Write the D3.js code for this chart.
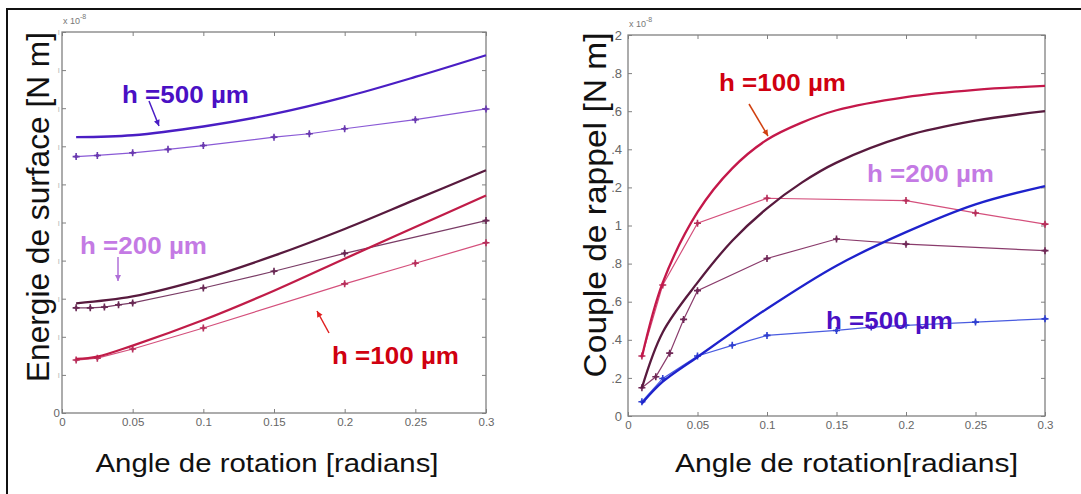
<!DOCTYPE html>
<html><head><meta charset="utf-8">
<script src="https://cdn.jsdelivr.net/npm/d3@7"></script>
<style>
html,body{margin:0;padding:0;background:#fff;}
svg{display:block;font-family:"Liberation Sans",Arial,sans-serif;}
</style></head>
<body>
<svg id="c" width="1081" height="494"></svg>
<script>
// ---------- DATA ----------
const xTicks = [0, 0.05, 0.1, 0.15, 0.2, 0.25, 0.3];
const xTickLabels = ["0", "0.05", "0.1", "0.15", "0.2", "0.25", "0.3"];

// Left panel: Energie de surface (tick labels cut off in source)
const leftYTicks = [0,1,2,3,4,5,6,7,8,9,10];
const leftYTickLabels = ["0","ı","ı","ı","ı","ı","ı","ı","ı","ı","ı"];
const leftX_h500_solid = [0.01, 0.05, 0.1, 0.15, 0.2, 0.25, 0.3];
const leftY_h500_solid = [7.24, 7.29, 7.52, 7.85, 8.29, 8.82, 9.39];
const leftX_h500_mark  = [0.01, 0.025, 0.05, 0.075, 0.1, 0.15, 0.175, 0.2, 0.25, 0.3];
const leftY_h500_mark  = [6.73, 6.76, 6.83, 6.92, 7.02, 7.24, 7.33, 7.46, 7.70, 7.98];
const leftX_h200_solid = [0.01, 0.05, 0.1, 0.15, 0.2, 0.25, 0.3];
const leftY_h200_solid = [2.88, 3.06, 3.52, 4.13, 4.83, 5.60, 6.37];
const leftX_h200_mark  = [0.01, 0.02, 0.03, 0.04, 0.05, 0.1, 0.15, 0.2, 0.3];
const leftY_h200_mark  = [2.76, 2.76, 2.78, 2.84, 2.89, 3.28, 3.72, 4.19, 5.05];
const leftX_h100_solid = [0.01, 0.025, 0.05, 0.1, 0.15, 0.2, 0.25, 0.3];
const leftY_h100_solid = [1.42, 1.48, 1.77, 2.44, 3.21, 4.05, 4.88, 5.71];
const leftX_h100_mark  = [0.01, 0.025, 0.05, 0.1, 0.2, 0.25, 0.3];
const leftY_h100_mark  = [1.39, 1.44, 1.68, 2.23, 3.39, 3.93, 4.47];

// Right panel: Couple de rappel (x 1e-8 N m)
const rightYTicks = [0,0.2,0.4,0.6,0.8,1,1.2,1.4,1.6,1.8,2];
const rightYTickLabels = ["0",".2",".4",".6",".8","1",".2",".4",".6",".8","2"];
const rightX_h100_solid = [0.01, 0.025, 0.05, 0.075, 0.1, 0.125, 0.15, 0.2, 0.25, 0.3];
const rightY_h100_solid = [0.31, 0.70, 1.07, 1.30, 1.45, 1.54, 1.605, 1.674, 1.712, 1.733];
const rightX_h100_mark  = [0.01, 0.025, 0.05, 0.1, 0.2, 0.25, 0.3];
const rightY_h100_mark  = [0.315, 0.688, 1.012, 1.143, 1.131, 1.066, 1.007];
const rightX_h200_solid = [0.01, 0.025, 0.05, 0.075, 0.1, 0.125, 0.15, 0.2, 0.25, 0.3];
const rightY_h200_solid = [0.148, 0.44, 0.70, 0.92, 1.09, 1.225, 1.33, 1.47, 1.55, 1.60];
const rightX_h200_mark  = [0.01, 0.02, 0.03, 0.04, 0.05, 0.1, 0.15, 0.2, 0.3];
const rightY_h200_mark  = [0.148, 0.206, 0.33, 0.507, 0.658, 0.827, 0.929, 0.902, 0.868];
const rightX_h500_solid = [0.01, 0.025, 0.05, 0.1, 0.15, 0.2, 0.25, 0.3];
const rightY_h500_solid = [0.066, 0.18, 0.31, 0.563, 0.789, 0.965, 1.111, 1.207];
const rightX_h500_mark  = [0.01, 0.025, 0.05, 0.075, 0.1, 0.15, 0.175, 0.2, 0.25, 0.3];
const rightY_h500_mark  = [0.075, 0.197, 0.315, 0.371, 0.423, 0.449, 0.467, 0.476, 0.493, 0.51];

// ---------- DRAW ----------
const svg = d3.select("#c");
const zip = (xs, ys) => xs.map((x, i) => [x, ys[i]]);

// outer frame (top + left)
svg.append("path").attr("d","M7,494 L7,9 L1081,9").attr("fill","none")
   .attr("stroke","#111").attr("stroke-width",2);

function panel(cfg){
  const g = svg.append("g");
  const x = d3.scaleLinear().domain([0,0.3]).range([cfg.x0, cfg.x1]);
  const y = d3.scaleLinear().domain(cfg.yDomain).range([cfg.y0, cfg.y1]);
  const axCol = "#808080";
  g.append("rect").attr("x",cfg.x0).attr("y",cfg.y1).attr("width",cfg.x1-cfg.x0)
   .attr("height",cfg.y0-cfg.y1).attr("fill","#fff").attr("stroke",axCol).attr("stroke-width",1.3);
  const xb = g.append("g").attr("transform",`translate(0,${cfg.y0})`)
    .call(d3.axisBottom(x).tickValues(xTicks).tickFormat((d,i)=>xTickLabels[i]).tickSize(-4).tickPadding(6));
  const xt = g.append("g").attr("transform",`translate(0,${cfg.y1})`)
    .call(d3.axisTop(x).tickValues(xTicks).tickFormat("").tickSize(-4));
  const yl = g.append("g").attr("transform",`translate(${cfg.x0},0)`)
    .call(d3.axisLeft(y).tickValues(cfg.yTicks).tickFormat((d,i)=>cfg.yLabels[i]).tickSize(-4).tickPadding(cfg.yPad));
  const yr = g.append("g").attr("transform",`translate(${cfg.x1},0)`)
    .call(d3.axisRight(y).tickValues(cfg.yTicks).tickFormat("").tickSize(-4));
  [xb,xt,yl,yr].forEach(a=>{
    a.select(".domain").remove();
    a.selectAll("line").attr("stroke",axCol);
    a.selectAll("text").attr("fill","#666").style("font-size","11.5px");
  });
  xb.selectAll("text").attr("dy","0.6em");
  if(cfg.faintY){
    yl.selectAll("text").filter((d,i)=>i>0).attr("fill","#bbb").style("font-size","9px");
  } else {
    yl.selectAll("text").style("font-size","13px");
  }
  const ex = g.append("text").attr("x",cfg.x0+1).attr("y",cfg.y1-8).attr("fill","#777").style("font-size","9px");
  ex.append("tspan").text("x 10");
  ex.append("tspan").attr("dy",-5).style("font-size","7px").text("-8");

  const smooth = d3.line().x(d=>x(d[0])).y(d=>y(d[1])).curve(d3.curveCatmullRom.alpha(0.5));
  const lin = d3.line().x(d=>x(d[0])).y(d=>y(d[1]));
  cfg.series.forEach(s=>{
    g.append("path").attr("d", s.marks ? lin(s.data) : smooth(s.data))
      .attr("fill","none").attr("stroke",s.color).attr("stroke-width", s.marks?1.2:2.3);
    if(s.marks){
      g.selectAll(null).data(s.data).enter().append("path")
        .attr("transform",d=>`translate(${x(d[0])},${y(d[1])})`)
        .attr("d","M-3.5,0H3.5M0,-3.5V3.5").attr("stroke",s.markColor||s.color).attr("stroke-width",1.6);
      g.selectAll(null).data(s.data).enter().append("circle")
        .attr("cx",d=>x(d[0])).attr("cy",d=>y(d[1])).attr("r",1.8).attr("fill",s.markColor||s.color);
    }
  });
  g.append("text").attr("x",(cfg.x0+cfg.x1)/2+ cfg.xLabelDx).attr("y",472).attr("text-anchor","middle")
   .attr("textLength",343).attr("lengthAdjust","spacingAndGlyphs")
   .style("font-size","26px").attr("fill","#111").text(cfg.xLabel);
  g.append("text").attr("transform",`translate(${cfg.yLabelX},${cfg.yLabelCy}) rotate(-90)`)
   .attr("text-anchor","middle").attr("textLength",cfg.yLabelLen).attr("lengthAdjust","spacingAndGlyphs")
   .style("font-size","31px").attr("fill","#111").text(cfg.yLabel);
  cfg.annots.forEach(a=>{
    g.append("text").attr("x",a.x).attr("y",a.y).attr("fill",a.color)
     .style("font-size","24px").style("font-weight","bold").attr("textLength",127)
     .attr("lengthAdjust","spacingAndGlyphs").text(a.text);
  });
  cfg.arrows.forEach(a=>{
    const ang = Math.atan2(a.y2-a.y1, a.x2-a.x1);
    g.append("line").attr("x1",a.x1).attr("y1",a.y1).attr("x2",a.x2).attr("y2",a.y2)
      .attr("stroke",a.color).attr("stroke-width",1.5);
    const L=6, W=3;
    const bx=a.x2-L*Math.cos(ang), by=a.y2-L*Math.sin(ang);
    g.append("path").attr("d",`M${a.x2},${a.y2}L${bx-W*Math.sin(ang)},${by+W*Math.cos(ang)}L${bx+W*Math.sin(ang)},${by-W*Math.cos(ang)}Z`)
      .attr("fill",a.color);
  });
}

panel({
  x0:62, x1:486, y0:413, y1:32, yDomain:[0,10], yTicks:leftYTicks, yLabels:leftYTickLabels,
  yPad:2, faintY:true,
  xLabel:"Angle de rotation [radians]", xLabelDx:-7,
  yLabel:"Energie de surface [N m]", yLabelX:49, yLabelCy:207, yLabelLen:350,
  series:[
    {data:zip(leftX_h500_mark,leftY_h500_mark), color:"#8a5ad6", markColor:"#6a3ab0", marks:true},
    {data:zip(leftX_h500_solid,leftY_h500_solid), color:"#4a1ec4"},
    {data:zip(leftX_h200_mark,leftY_h200_mark), color:"#7a3c66", markColor:"#6a2a55", marks:true},
    {data:zip(leftX_h200_solid,leftY_h200_solid), color:"#581a3e"},
    {data:zip(leftX_h100_mark,leftY_h100_mark), color:"#d4507c", markColor:"#b8305c", marks:true},
    {data:zip(leftX_h100_solid,leftY_h100_solid), color:"#c01c48"}
  ],
  annots:[
    {text:"h =500 µm", x:122, y:103, color:"#4a10c4"},
    {text:"h =200 µm", x:80, y:254, color:"#c47ae4"},
    {text:"h =100 µm", x:332, y:364, color:"#d00010"}
  ],
  arrows:[
    {x1:149,y1:101,x2:159,y2:126,color:"#4a1ec4"},
    {x1:118,y1:257,x2:118,y2:281,color:"#b070d8"},
    {x1:329,y1:333,x2:317,y2:311,color:"#e02020"}
  ]
});

panel({
  x0:628, x1:1045, y0:416, y1:35, yDomain:[0,2], yTicks:rightYTicks, yLabels:rightYTickLabels,
  yPad:6, faintY:false,
  xLabel:"Angle de rotation[radians]", xLabelDx:10,
  yLabel:"Couple de rappel  [N m]", yLabelX:606, yLabelCy:205, yLabelLen:345,
  series:[
    {data:zip(rightX_h100_mark,rightY_h100_mark), color:"#d4507c", markColor:"#b8305c", marks:true},
    {data:zip(rightX_h100_solid,rightY_h100_solid), color:"#c4184a"},
    {data:zip(rightX_h200_mark,rightY_h200_mark), color:"#8a3c6c", markColor:"#702a58", marks:true},
    {data:zip(rightX_h200_solid,rightY_h200_solid), color:"#581a3e"},
    {data:zip(rightX_h500_mark,rightY_h500_mark), color:"#4a5ce0", markColor:"#3040d0", marks:true},
    {data:zip(rightX_h500_solid,rightY_h500_solid), color:"#1e22cc"}
  ],
  annots:[
    {text:"h =100 µm", x:719, y:91, color:"#d00010"},
    {text:"h =200 µm", x:867, y:182, color:"#c47ae4"},
    {text:"h =500 µm", x:826, y:329, color:"#4a10c4"}
  ],
  arrows:[
    {x1:749,y1:104,x2:768,y2:136,color:"#d04010"}
  ]
});
</script>
</body></html>
